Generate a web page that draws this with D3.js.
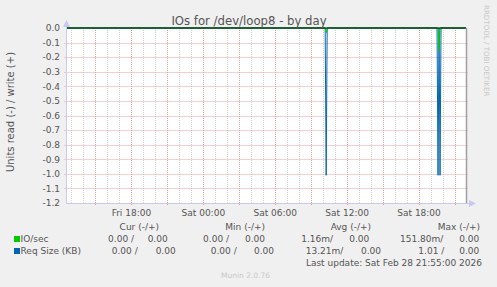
<!DOCTYPE html>
<html><head><meta charset="utf-8">
<script src="https://cdn.jsdelivr.net/npm/d3@7"></script>
<style>
html,body{margin:0;padding:0;background:#f0f0f0;}
svg{display:block;font-family:"DejaVu Sans",sans-serif;}
</style></head><body>
<svg id="c" width="497" height="287"></svg>
<script>
// ---- data ----
const title = "IOs for /dev/loop8 - by day";
const yLabel = "Units read (-) / write (+)";
const timeStart = "2026-02-27T12:35:00Z";
const timeEnd = "2026-02-28T21:55:00Z";
const yTicks = [0.0, -0.1, -0.2, -0.3, -0.4, -0.5, -0.6, -0.7, -0.8, -0.9, -1.0, -1.1, -1.2];
// IO/sec (read, drawn negative)
const ioTimes = ["2026-02-27T12:35:00Z","2026-02-28T10:10:00Z","2026-02-28T10:15:00Z","2026-02-28T10:20:00Z",
  "2026-02-28T19:35:00Z","2026-02-28T19:40:00Z","2026-02-28T19:45:00Z","2026-02-28T21:55:00Z"];
const ioRead = [0, 0, 0.032, 0, 0, 0.1518, 0, 0];
// Req Size (KB) (read, drawn negative)
const reqTimes = ["2026-02-27T12:35:00Z","2026-02-28T10:10:00Z","2026-02-28T10:15:00Z","2026-02-28T10:20:00Z",
  "2026-02-28T19:30:00Z","2026-02-28T19:35:00Z","2026-02-28T19:40:00Z","2026-02-28T19:45:00Z","2026-02-28T19:50:00Z","2026-02-28T21:55:00Z"];
const reqRead = [0, 0, 1.01, 0, 0, 1.01, 0, 1.01, 0, 0];
const legendHeaders = ["Cur (-/+)", "Min (-/+)", "Avg (-/+)", "Max (-/+)"];
const seriesNames = ["IO/sec", "Req Size (KB)"];
const seriesColors = ["#00cc00", "#0066b3"];
const ioStats = ["0.00 /", "0.00", "0.00 /", "0.00", "1.16m/", "0.00", "151.80m/", "0.00"];
const reqStats = ["0.00 /", "0.00", "0.00 /", "0.00", "13.21m/", "0.00", "1.01 /", "0.00"];
const lastUpdate = "Last update: Sat Feb 28 21:55:00 2026";
const footer = "Munin 2.0.76";
const watermark = "RRDTOOL / TOBI OETIKER";

// ---- layout ----
const svg = d3.select("#c");
const L = 66.5, R = 466, T = 28, B = 203;
const x = d3.scaleUtc().domain([new Date(timeStart), new Date(timeEnd)]).range([L, R]);
const y = d3.scaleLinear().domain([-1.2, 0]).range([B, T]);
const txt = "#555";

svg.append("rect").attr("x", L).attr("y", T).attr("width", R - L).attr("height", B - T).attr("fill", "#fff");

// vertical grid
const hours = d3.utcHour.every(1).range(new Date(timeStart), new Date(timeEnd));
hours.forEach(h => {
  const major = h.getUTCHours() % 3 === 0;
  const xp = Math.round(x(h)) + 0.5;
  svg.append("line").attr("x1", xp).attr("x2", xp).attr("y1", T).attr("y2", major ? B + 2 : B)
    .attr("stroke", major ? "#eaa0a0" : "#d4d4d4").attr("stroke-width", 1).attr("stroke-dasharray", "1,1");
});
// horizontal grid
yTicks.forEach(v => {
  if (v === 0 || v === -1.2) return;
  const yp = Math.round(y(v)) + 0.5;
  svg.append("line").attr("x1", L - 2).attr("x2", R + 2).attr("y1", yp).attr("y2", yp)
    .attr("stroke", "#eaa0a0").attr("stroke-width", 1).attr("stroke-dasharray", "1,1");
});

// y tick labels
yTicks.forEach(v => {
  svg.append("text").attr("x", 60).attr("y", y(v) + 3.3).attr("text-anchor", "end")
    .attr("font-size", 9).attr("fill", txt).text(v.toFixed(1));
});

// x tick labels
const labelTicks = d3.utcHour.every(6).range(new Date(timeStart), new Date(timeEnd));
const fmt = d3.utcFormat("%a %H:%M");
labelTicks.forEach(t => {
  svg.append("text").attr("x", x(t)).attr("y", 216).attr("text-anchor", "middle")
    .attr("font-size", 9).attr("fill", txt).text(fmt(t));
});

// data lines
const line = d3.line().x(d => x(d[0])).y(d => y(d[1]));
const reqData = reqTimes.map((t, i) => [new Date(t), -reqRead[i]]);
const ioData = ioTimes.map((t, i) => [new Date(t), -ioRead[i]]);
svg.append("path").datum(reqData).attr("d", line).attr("fill", "none")
  .attr("stroke", seriesColors[1]).attr("stroke-width", 1);
svg.append("path").datum(ioData).attr("d", line).attr("fill", "none")
  .attr("stroke", seriesColors[0]).attr("stroke-width", 1);

// zero line
svg.append("line").attr("x1", L).attr("x2", R).attr("y1", y(0)).attr("y2", y(0))
  .attr("stroke", "#000").attr("stroke-width", 1.2);

// axes
const axC = "#c8c8f0";
svg.append("line").attr("x1", L).attr("x2", L).attr("y1", 26).attr("y2", B + 0.5).attr("stroke", axC);
svg.append("line").attr("x1", L).attr("x2", 470).attr("y1", B + 0.5).attr("y2", B + 0.5).attr("stroke", axC);
svg.append("path").attr("d", `M${L - 3.5},27 L${L + 3.5},27 L${L},20 Z`).attr("fill", axC);
svg.append("path").attr("d", `M469,${B - 3} L469,${B + 4} L476,${B + 0.5} Z`).attr("fill", axC);
svg.append("line").attr("x1", R + 0.5).attr("x2", R + 0.5).attr("y1", T).attr("y2", B)
  .attr("stroke", "#a0a0a0").attr("stroke-width", 1.5);

// title
svg.append("text").attr("x", 249).attr("y", 25).attr("text-anchor", "middle")
  .attr("font-size", 11.7).attr("fill", txt).text(title);
// y label
svg.append("text").attr("transform", "translate(14,112) rotate(-90)").attr("text-anchor", "middle")
  .attr("font-size", 10).attr("fill", txt).text(yLabel);
// watermark
svg.append("text").attr("transform", "translate(484,5) rotate(90)").attr("text-anchor", "start")
  .attr("font-size", 7.1).attr("fill", "#c8c8c8").text(watermark);

// legend
const hdrX = [159, 265, 371, 480];
legendHeaders.forEach((h, i) => {
  svg.append("text").attr("x", hdrX[i]).attr("y", 230).attr("text-anchor", "end")
    .attr("font-size", 9).attr("fill", txt).text(h);
});
const rowsY = [242, 254];
const statX = [[134, 167.7, 229, 265, 333, 369.3, 443.3, 479.3], [137.7, 175.7, 236.7, 274, 343.3, 381, 444.3, 479.3]];
[ioStats, reqStats].forEach((stats, r) => {
  svg.append("rect").attr("x", 14).attr("y", rowsY[r] - 6).attr("width", 6).attr("height", 6).attr("fill", seriesColors[r]);
  svg.append("text").attr("x", 20.5).attr("y", rowsY[r]).attr("font-size", 9).attr("fill", txt).text(seriesNames[r]);
  stats.forEach((s, i) => {
    svg.append("text").attr("x", statX[r][i]).attr("y", rowsY[r]).attr("text-anchor", "end")
      .attr("font-size", 9).attr("fill", txt).text(s);
  });
});
svg.append("text").attr("x", 482).attr("y", 266).attr("text-anchor", "end")
  .attr("font-size", 9).attr("fill", txt).text(lastUpdate);
svg.append("text").attr("x", 245.5).attr("y", 278).attr("text-anchor", "middle")
  .attr("font-size", 7.5).attr("fill", "#c8c8c8").text(footer);
</script>
</body></html>
